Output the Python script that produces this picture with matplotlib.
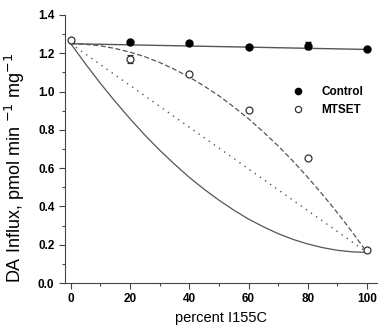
import matplotlib.pyplot as plt
from matplotlib.lines import Line2D
import numpy as np

# measured data
pct = [0, 20, 40, 60, 80, 100]
control_x = [20, 40, 60, 80, 100]
control_y = [1.26, 1.255, 1.235, 1.24, 1.22]
control_err = [0.0, 0.0, 0.0, 0.02, 0.0]
mtset_y = [1.27, 1.17, 1.09, 0.905, 0.655, 0.17]
mtset_err = [0.0, 0.02, 0.0, 0.0, 0.0, 0.0]

# model curves
curve_x = [0, 5, 10, 15, 20, 25, 30, 35, 40, 45, 50,
           55, 60, 65, 70, 75, 80, 85, 90, 95, 100]
upper_y = [1.25, 1.247, 1.239, 1.225, 1.206, 1.182, 1.152, 1.116, 1.076, 1.029, 0.978,
           0.920, 0.858, 0.789, 0.716, 0.637, 0.552, 0.462, 0.367, 0.266, 0.16]
lower_y = [1.25, 1.144, 1.043, 0.948, 0.858, 0.773, 0.694, 0.621, 0.552, 0.490, 0.433,
           0.381, 0.334, 0.294, 0.258, 0.228, 0.204, 0.185, 0.171, 0.163, 0.16]
linear_x = [0, 100]
linear_y = [1.25, 0.16]
control_fit_x = [0, 100]
control_fit_y = [1.25, 1.22]

plt.rcParams['font.family'] = ['Liberation Sans', 'DejaVu Sans']

fig = plt.figure(figsize=(3.86, 3.33), dpi=100)
ax = fig.add_axes([0.168, 0.150, 0.809, 0.805])

lc = '#555555'
ax.plot(control_fit_x, control_fit_y, color=lc, lw=1.0)
ax.plot(curve_x, upper_y, color=lc, lw=0.9, ls=(0, (4, 2)))
ax.plot(linear_x, linear_y, color=lc, lw=1.0, ls=(0, (1, 3.5)))
ax.plot(curve_x, lower_y, color=lc, lw=0.9)

ax.errorbar(control_x, control_y, yerr=control_err, fmt='o', color='black',
            ms=5, capsize=2.5, elinewidth=0.8, zorder=5)
ax.errorbar(pct, mtset_y, yerr=mtset_err, fmt='o', mfc='white', mec='#333333',
            color='#333333', ms=5, mew=0.9, capsize=2.5, elinewidth=0.8,
            zorder=5)

ax.set_xlim(-2, 103.4)
ax.set_ylim(0, 1.4)
ax.set_xticks(pct)
ax.set_xticks(np.arange(10, 100, 20), minor=True)
ax.set_yticks(np.arange(0, 1.41, 0.2))
ax.set_yticks(np.arange(0.1, 1.4, 0.2), minor=True)
ax.yaxis.set_major_formatter(plt.FormatStrFormatter('%.1f'))
ax.tick_params(which='major', length=4, width=0.8, labelsize=8.5, color='#444444')
ax.tick_params(which='minor', length=2.5, width=0.8, color='#444444')
for lab in ax.get_xticklabels() + ax.get_yticklabels():
    lab.set_fontweight('bold')

ax.spines['top'].set_visible(False)
ax.spines['right'].set_visible(False)
for s in ['left', 'bottom']:
    ax.spines[s].set_color('#444444')
    ax.spines[s].set_linewidth(0.8)

ax.set_xlabel('percent I155C', fontsize=10.5)
ax.set_ylabel(r'DA Influx, pmol min $^{-1}$ mg$^{-1}$', fontsize=13)
ax.yaxis.set_label_coords(-0.12, 0.43)

handles = [Line2D([], [], ls='none', marker='o', ms=4.5, color='black'),
           Line2D([], [], ls='none', marker='o', ms=4.5, mfc='white',
                  mec='#333333', mew=0.9)]
leg = ax.legend(handles, ['Control', 'MTSET'], loc='upper left',
                bbox_to_anchor=(0.675, 0.774), frameon=False,
                fontsize=8.5, handletextpad=1.0, labelspacing=0.5,
                handlelength=2.0)
for t in leg.get_texts():
    t.set_fontweight('bold')

fig.savefig('out.png', dpi=100)
